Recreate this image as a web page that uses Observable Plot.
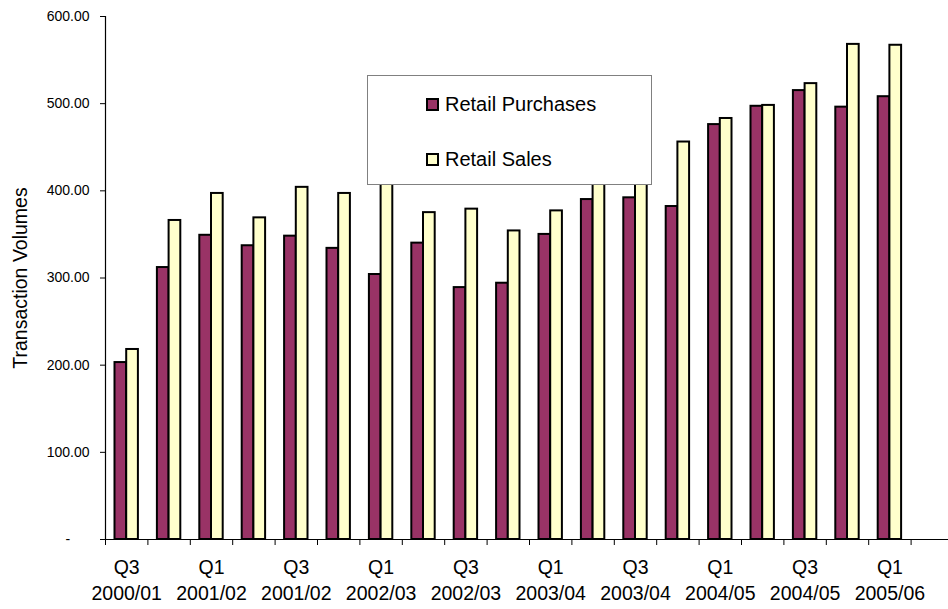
<!DOCTYPE html>
<html>
<head>
<meta charset="utf-8">
<script src="https://cdn.jsdelivr.net/npm/d3@7"></script>
<script src="https://cdn.jsdelivr.net/npm/@observablehq/plot@0.6"></script>
<style>
  html, body { margin: 0; padding: 0; background: #fff; }
  #wrap { position: relative; width: 948px; height: 609px; overflow: hidden; font-family: "Liberation Sans", Arial, sans-serif; }
  #legend { position: absolute; left: 367px; top: 75px; width: 285px; height: 110px; background: #fff; border: 1px solid #808080; box-sizing: border-box; }
  .item { position: absolute; left: 58px; font-size: 20px; line-height: 1; color: #000; white-space: nowrap; }
  .sw { position: absolute; left: 0; width: 13px; height: 13px; box-sizing: border-box; border: 2px solid #000; }
  .lbl { position: absolute; left: 19px; }
</style>
</head>
<body>
<div id="wrap"></div>
<script>
const periods = [
  "Q3 2000/01", "Q4 2000/01", "Q1 2001/02", "Q2 2001/02", "Q3 2001/02", "Q4 2001/02",
  "Q1 2002/03", "Q2 2002/03", "Q3 2002/03", "Q4 2002/03", "Q1 2003/04", "Q2 2003/04",
  "Q3 2003/04", "Q4 2003/04", "Q1 2004/05", "Q2 2004/05", "Q3 2004/05", "Q4 2004/05",
  "Q1 2005/06", "Q2 2005/06"
];
const seriesNames = ["Retail Purchases", "Retail Sales"];
const purchases = [203, 312, 349, 337, 348, 334, 304, 340, 289, 294, 350, 390, 392, 382, 476, 497, 515, 496, 508];
const sales     = [218, 366, 397, 369, 404, 397, 415, 375, 379, 354, 377, 420, 425, 456, 483, 498, 523, 568, 567];
const yTicks = [0, 100, 200, 300, 400, 500, 600];
const colors = ["#993366", "#FFFFCC"];

const rowsP = purchases.map((v, i) => ({period: periods[i], series: seriesNames[0], value: v}));
const rowsS = sales.map((v, i) => ({period: periods[i], series: seriesNames[1], value: v}));

const chart = Plot.plot({
  width: 948,
  height: 609,
  marginLeft: 105,
  marginRight: 0,
  marginTop: 16,
  marginBottom: 70,
  style: {fontFamily: "'Liberation Sans', Arial, sans-serif", fontSize: "14px", color: "#000", background: "#fff", overflow: "visible"},
  x: {type: "band", domain: periods, range: [105, 953], padding: 0, round: false, axis: null, label: null},
  y: {domain: [0, 600], axis: null, label: null},
  color: {domain: seriesNames, range: colors},
  marks: [
    Plot.barY(rowsP, {x: "period", y: "value", fill: "series", stroke: "#000", strokeWidth: 2, insetLeft: 9.5, insetRight: 21.2}),
    Plot.barY(rowsS, {x: "period", y: "value", fill: "series", stroke: "#000", strokeWidth: 2, insetLeft: 21.2, insetRight: 9.5}),
    Plot.ruleY([0], {stroke: "#000", strokeWidth: 1.2}),
    Plot.ruleX([periods[0]], {dx: -21.2, y1: 0, y2: 600, stroke: "#000", strokeWidth: 1.2}),
    Plot.axisY({ticks: yTicks, tickSize: 5, tickPadding: 11, fontSize: 14, label: null,
      tickFormat: d => d === 0 ? "-\u00a0\u00a0\u00a0\u00a0\u00a0" : d.toFixed(2)}),
    Plot.axisX({ticks: periods, tickSize: 6, dx: -21.2, tickFormat: () => "", label: null}),
    Plot.axisX({ticks: periods.filter((d, i) => i % 2 === 0), tickSize: 0, tickPadding: 16, label: null,
      fontSize: 19.5, lineHeight: 1.33, tickFormat: d => d.replace(" ", "\n")}),
    Plot.text(["Transaction Volumes"], {frameAnchor: "left", dx: -85, rotate: -90, fontSize: 19.5, textAnchor: "middle", lineAnchor: "middle"})
  ]
});

const wrap = document.getElementById("wrap");
wrap.appendChild(chart);

const legend = document.createElement("div");
legend.id = "legend";
const tops = [22, 77];
seriesNames.forEach((name, i) => {
  const item = document.createElement("div");
  item.className = "item";
  item.style.top = tops[i] + "px";
  const sw = document.createElement("div");
  sw.className = "sw";
  sw.style.background = colors[i];
  sw.style.top = "0px";
  const lbl = document.createElement("span");
  lbl.className = "lbl";
  lbl.style.top = "-4px";
  lbl.textContent = name;
  item.appendChild(sw);
  item.appendChild(lbl);
  legend.appendChild(item);
});
wrap.appendChild(legend);
</script>
</body>
</html>
